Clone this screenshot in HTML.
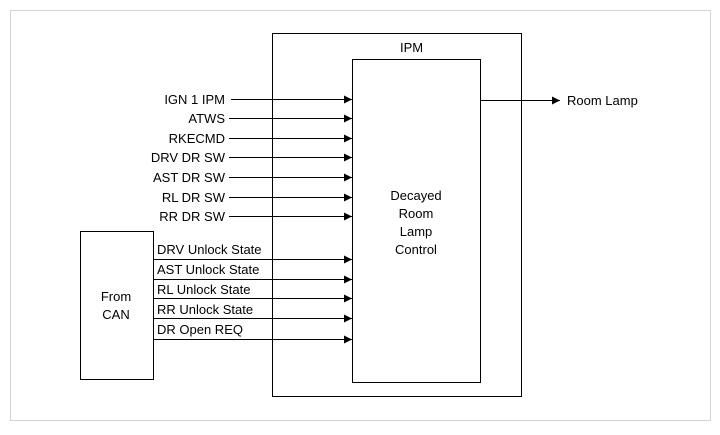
<!DOCTYPE html>
<html><head><style>
body{margin:0;background:#fff;}
svg text{font-family:"Liberation Sans",Arial,sans-serif;font-size:13px;fill:#000;}
</style></head><body>
<svg width="720" height="430" xmlns="http://www.w3.org/2000/svg">
<defs><marker id="a" markerWidth="8" markerHeight="8" refX="8" refY="4" orient="auto" markerUnits="userSpaceOnUse"><path d="M0,0 L8,4 L0,8 z" fill="#000"/></marker></defs>
<rect x="10.5" y="10.5" width="700" height="410" fill="none" stroke="#aaa" stroke-dasharray="1,1"/>
<rect x="272.5" y="33.5" width="249" height="363" fill="none" stroke="#000"/>
<rect x="352.5" y="59.5" width="128" height="323" fill="none" stroke="#000"/>
<rect x="80.5" y="231.5" width="73" height="148" fill="none" stroke="#000"/>
<text x="400" y="52">IPM</text>
<text x="416" y="200" text-anchor="middle">Decayed</text>
<text x="416" y="218" text-anchor="middle">Room</text>
<text x="416" y="236" text-anchor="middle">Lamp</text>
<text x="416" y="254" text-anchor="middle">Control</text>
<text x="116" y="301" text-anchor="middle">From</text>
<text x="116" y="319" text-anchor="middle">CAN</text>
<g stroke="#000" marker-end="url(#a)">
<line x1="231" y1="99.5" x2="352" y2="99.5"/>
<line x1="229" y1="118.5" x2="352" y2="118.5"/>
<line x1="229" y1="138.5" x2="352" y2="138.5"/>
<line x1="229" y1="157.5" x2="352" y2="157.5"/>
<line x1="229" y1="177.5" x2="352" y2="177.5"/>
<line x1="229" y1="197.5" x2="352" y2="197.5"/>
<line x1="229" y1="216.5" x2="352" y2="216.5"/>
<line x1="153" y1="259.5" x2="352" y2="259.5"/>
<line x1="153" y1="279.5" x2="352" y2="279.5"/>
<line x1="153" y1="298.5" x2="352" y2="298.5"/>
<line x1="153" y1="318.5" x2="352" y2="318.5"/>
<line x1="153" y1="339.5" x2="352" y2="339.5"/>
<line x1="480" y1="100.5" x2="560" y2="100.5"/>
</g>
<g text-anchor="end">
<text x="225" y="104">IGN 1 IPM</text>
<text x="225" y="123">ATWS</text>
<text x="225" y="143">RKECMD</text>
<text x="225" y="162">DRV DR SW</text>
<text x="225" y="182">AST DR SW</text>
<text x="225" y="202">RL DR SW</text>
<text x="225" y="221">RR DR SW</text>
</g>
<text x="157" y="254">DRV Unlock State</text>
<text x="157" y="274">AST Unlock State</text>
<text x="157" y="294">RL Unlock State</text>
<text x="157" y="314">RR Unlock State</text>
<text x="157" y="334">DR Open REQ</text>
<text x="567" y="105">Room Lamp</text>
</svg>
</body></html>
